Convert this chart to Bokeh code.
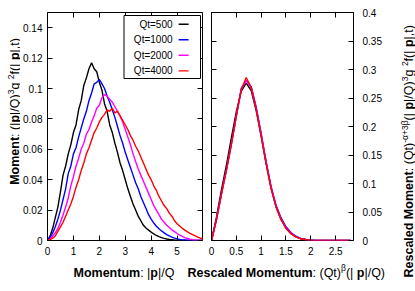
import math
from bokeh.plotting import figure
from bokeh.layouts import row, column
from bokeh.models import (Range1d, FixedTicker, PrintfTickFormatter, LinearAxis,
                          Label, BoxAnnotation)
from bokeh.embed import file_html
from bokeh.resources import INLINE

# ---------------- data ----------------
SERIES = ["Qt=500", "Qt=1000", "Qt=2000", "Qt=4000"]
COLORS = ["#000000", "#0000ff", "#ff00ff", "#ff0000"]

# momentum |p|/Q sampling grid (left panel)
P_GRID = [round(i * 0.1, 1) for i in range(61)]

M_500 = [0, 0.003, 0.008, 0.015, 0.022, 0.032, 0.043, 0.049, 0.057, 0.063,
         0.071, 0.076, 0.086, 0.092, 0.102, 0.107, 0.113, 0.117, 0.113, 0.111,
         0.104, 0.099, 0.090, 0.085, 0.076, 0.071, 0.064, 0.058, 0.051, 0.046,
         0.040, 0.034, 0.029, 0.024, 0.020, 0.016, 0.013, 0.010, 0.0082, 0.0068,
         0.0055, 0.0043, 0.0033, 0.0025, 0.0019, 0.0014, 0.0010, 0.0007, 0.0005, 0.0003,
         0.0002, 0.0001, 0.0001, 0, 0, 0, 0, 0, 0, 0, 0]
M_1000 = [0, 0.002, 0.005, 0.009, 0.014, 0.020, 0.027, 0.034, 0.044, 0.049,
          0.057, 0.061, 0.068, 0.074, 0.080, 0.085, 0.092, 0.097, 0.103, 0.104,
          0.106, 0.103, 0.100, 0.095, 0.091, 0.086, 0.081, 0.075, 0.069, 0.064,
          0.058, 0.053, 0.048, 0.043, 0.038, 0.034, 0.029, 0.025, 0.021, 0.017,
          0.014, 0.0115, 0.0094, 0.0077, 0.0063, 0.0050, 0.0039, 0.0030, 0.0022, 0.0016,
          0.0011, 0.0007, 0.0004, 0.0003, 0.0002, 0.0001, 0, 0, 0, 0, 0]
M_2000 = [0, 0.001, 0.003, 0.005, 0.008, 0.012, 0.017, 0.022, 0.028, 0.036,
          0.042, 0.049, 0.054, 0.060, 0.064, 0.070, 0.073, 0.078, 0.082, 0.087,
          0.089, 0.094, 0.096, 0.095, 0.093, 0.091, 0.088, 0.085, 0.082, 0.078,
          0.073, 0.068, 0.063, 0.057, 0.052, 0.047, 0.043, 0.039, 0.035, 0.031,
          0.027, 0.023, 0.020, 0.017, 0.014, 0.012, 0.010, 0.0085, 0.0070, 0.0058,
          0.0046, 0.0036, 0.0027, 0.0019, 0.0013, 0.0008, 0.0005, 0.0003, 0.0002, 0.0001, 0]
M_4000 = [0, 0.0005, 0.0015, 0.003, 0.006, 0.009, 0.012, 0.016, 0.020, 0.024,
          0.029, 0.035, 0.040, 0.046, 0.051, 0.057, 0.061, 0.066, 0.071, 0.074,
          0.078, 0.081, 0.083, 0.086, 0.085, 0.087, 0.084, 0.085, 0.082, 0.079,
          0.076, 0.073, 0.069, 0.066, 0.062, 0.059, 0.055, 0.051, 0.047, 0.043,
          0.040, 0.036, 0.033, 0.029, 0.026, 0.023, 0.021, 0.018, 0.016, 0.013,
          0.011, 0.0095, 0.0080, 0.0068, 0.0057, 0.0047, 0.0038, 0.0030, 0.0022, 0.0015, 0.001]

# rescaled momentum (Qt)^beta |p|/Q sampling grid (right panel)
R_GRID = [round(i * 0.1, 1) for i in range(29)]

R_500 = [0, 0.041, 0.089, 0.132, 0.180, 0.226, 0.262, 0.276, 0.263, 0.228,
         0.183, 0.135, 0.092, 0.059, 0.037, 0.022, 0.012, 0.0065, 0.003, 0.0013,
         0.0005, 0.0002, 0.0001, 0, 0, 0, 0, 0, 0]
R_1000 = [0, 0.037, 0.082, 0.124, 0.169, 0.219, 0.267, 0.281, 0.270, 0.234,
          0.188, 0.139, 0.095, 0.062, 0.040, 0.024, 0.014, 0.0075, 0.0038, 0.0017,
          0.0008, 0.0003, 0.0001, 0, 0, 0, 0, 0, 0]
R_2000 = [0, 0.037, 0.082, 0.124, 0.169, 0.219, 0.265, 0.281, 0.268, 0.232,
          0.186, 0.137, 0.093, 0.060, 0.038, 0.022, 0.013, 0.0068, 0.0033, 0.0015,
          0.0006, 0.0002, 0.0001, 0, 0, 0, 0, 0, 0]
R_4000 = [0, 0.036, 0.081, 0.123, 0.168, 0.218, 0.265, 0.286, 0.268, 0.231,
          0.184, 0.135, 0.091, 0.059, 0.037, 0.021, 0.012, 0.0062, 0.003, 0.0013,
          0.0005, 0.0002, 0.0001, 0, 0, 0, 0, 0, 0]

X1_TICKS = [0, 1, 2, 3, 4, 5]
Y1_TICKS = [0, 0.02, 0.04, 0.06, 0.08, 0.1, 0.12, 0.14]
X2_TICKS = [0, 0.5, 1, 1.5, 2, 2.5]
Y2_TICKS = [0, 0.05, 0.1, 0.15, 0.2, 0.25, 0.3, 0.35, 0.4]

X1_RANGE = (0, 5.98)
Y1_RANGE = (0, 0.15)
X2_RANGE = (0, 2.86)
Y2_RANGE = (0, 0.4)

# ---------------- layout ----------------
FONT = "Liberation Sans"
TOP_H = 258          # height of the two panels
BOT_H = 33           # strip holding the x-axis titles
W_LY, W1, W2, W_RY = 20, 185, 190, 20
MB1 = dict(min_border_left=26, min_border_right=3, min_border_top=12, min_border_bottom=18)
MB2 = dict(min_border_left=6, min_border_right=42, min_border_top=12, min_border_bottom=18)

REG = {' ': 278, '(': 333, ')': 333, '|': 260, '/': 278, 'Q': 778, 't': 278, ',': 278,
       'f': 278, 'g': 556, 'p': 556, '-': 333, '+': 584, '3': 556, '2': 556,
       'α': 580, 'β': 575, ':': 278}
BOLD = {'R': 722, 'e': 556, 's': 556, 'c': 556, 'a': 556, 'l': 278, 'd': 611, ' ': 278,
        'M': 833, 'o': 611, 'm': 889, 'n': 611, 't': 333, 'u': 611, ':': 333, 'p': 611}


def text_w(s, bold, size):
    table = BOLD if bold else REG
    return sum(table.get(c, 556) for c in s) * size / 1000.0


def rich(p, x, y, pieces, dx=0.0, dy=0.0, angle=0.0):
    pos = 0.0
    for txt, bold, size, rise in pieces:
        if angle == 0.0:
            xo, yo = dx + pos, dy + rise
        else:
            xo, yo = dx - rise, dy + pos
        p.add_layout(Label(x=x, y=y, x_offset=xo, y_offset=yo, text=txt, angle=angle,
                           text_font=FONT, text_font_size=f"{size}px",
                           text_font_style="bold" if bold else "normal",
                           text_color="black", text_align="left",
                           text_baseline="alphabetic", level="overlay"))
        pos += text_w(txt, bold, size)


def style_axis(ax, ticks, labels=True, standoff=6):
    ax.ticker = FixedTicker(ticks=ticks)
    ax.formatter = PrintfTickFormatter(format="%g")
    ax.major_tick_in = 5
    ax.major_tick_out = 0
    ax.minor_tick_in = 0
    ax.minor_tick_out = 0
    ax.axis_line_color = None
    ax.major_tick_line_color = "black"
    ax.major_tick_line_width = 1
    ax.major_label_text_font = FONT
    ax.major_label_text_font_style = "normal"
    if labels:
        ax.major_label_text_color = "black"
        ax.major_label_text_font_size = "10px"
        ax.major_label_standoff = standoff
    else:
        ax.major_label_text_color = None
        ax.major_label_text_font_size = "0px"
        ax.major_label_standoff = 0


def make_fig(width, mb, xr, yr, yloc):
    p = figure(width=width, height=TOP_H, x_range=Range1d(*xr), y_range=Range1d(*yr),
               output_backend="svg", toolbar_location=None, y_axis_location=yloc,
               background_fill_color="white", border_fill_color="white",
               outline_line_color="black", outline_line_width=1, **mb)
    p.grid.visible = False
    return p


def blank_fig(width, height):
    p = figure(width=width, height=height, x_range=Range1d(0, width),
               y_range=Range1d(0, height), output_backend="svg", toolbar_location=None,
               x_axis_location=None, y_axis_location=None, outline_line_color=None,
               background_fill_color="white", border_fill_color="white",
               min_border_left=0, min_border_right=0, min_border_top=0, min_border_bottom=0)
    p.grid.visible = False
    return p


SZ, SUP, RISE = 12.5, 8.5, 4.2

# ---------------- left panel ----------------
p1 = make_fig(W1, MB1, X1_RANGE, Y1_RANGE, "left")
style_axis(p1.xaxis[0], X1_TICKS, True, 6)
style_axis(p1.yaxis[0], Y1_TICKS, True, 5)
ax = LinearAxis(); style_axis(ax, X1_TICKS, False); p1.add_layout(ax, "above")
ax = LinearAxis(); style_axis(ax, Y1_TICKS, False); p1.add_layout(ax, "right")

for ys, c in zip([M_500, M_1000, M_2000, M_4000], COLORS):
    p1.line(P_GRID, ys, line_color=c, line_width=1.4)

# legend (gnuplot style: text then sample)
fw1 = W1 - MB1["min_border_left"] - MB1["min_border_right"]
fh1 = TOP_H - MB1["min_border_top"] - MB1["min_border_bottom"]
pxx = fw1 / (X1_RANGE[1] - X1_RANGE[0])
pxy = fh1 / (Y1_RANGE[1] - Y1_RANGE[0])
XE, YE = X1_RANGE[1], Y1_RANGE[1]
p1.add_layout(BoxAnnotation(left=XE - 79 / pxx, right=XE - 2 / pxx,
                            top=YE - 3 / pxy, bottom=YE - 66 / pxy,
                            fill_color="white", fill_alpha=1, line_color="black",
                            line_width=1, line_alpha=1, level="overlay"))
for i, (name, c) in enumerate(zip(SERIES, COLORS)):
    cy = 11.7 + 15.55 * i
    p1.add_layout(Label(x=XE, y=YE, x_offset=-30, y_offset=-cy, text=name,
                        text_font=FONT, text_font_size="10px", text_color="black",
                        text_align="right", text_baseline="middle", level="overlay"))
    p1.add_layout(BoxAnnotation(left=XE - 24 / pxx, right=XE - 14 / pxx,
                                top=YE - (cy - 0.7) / pxy, bottom=YE - (cy + 0.7) / pxy,
                                fill_color=c, fill_alpha=1, line_color=None,
                                level="overlay"))

# ---------------- right panel ----------------
p2 = make_fig(W2, MB2, X2_RANGE, Y2_RANGE, "right")
style_axis(p2.xaxis[0], X2_TICKS, True, 6)
style_axis(p2.yaxis[0], Y2_TICKS, True, 9)
ax = LinearAxis(); style_axis(ax, X2_TICKS, False); p2.add_layout(ax, "above")
ax = LinearAxis(); style_axis(ax, Y2_TICKS, False); p2.add_layout(ax, "left")

for ys, c in zip([R_500, R_1000, R_2000, R_4000], COLORS):
    p2.line(R_GRID, ys, line_color=c, line_width=1.4)

# ---------------- axis-title strips ----------------
left_title = blank_fig(W_LY, TOP_H)
rich(left_title, 14, TOP_H - 195,
     [("Moment", True, SZ, 0), (": (|", False, SZ, 0), ("p", True, SZ, 0),
      ("|/Q)", False, SZ, 0), ("3", False, SUP, 3.6), (" g", False, SZ, 0),
      ("2", False, SUP, 3.6), (" f(|", False, SZ, 0), ("p", True, SZ, 0),
      ("|,t)", False, SZ, 0)],
     angle=math.pi / 2)

bottom = blank_fig(W_LY + W1 + W2, BOT_H)
rich(bottom, 73, 19,
     [("Momentum", True, SZ, 0), (": |", False, SZ, 0), ("p", True, SZ, 0),
      ("|/Q", False, SZ, 0)])
rich(bottom, 187, 19,
     [("Rescaled Momentum", True, SZ, 0), (": (Qt)", False, SZ, 0),
      ("β", False, SUP, RISE), (" (|", False, SZ, 0), ("p", True, SZ, 0),
      ("|/Q)", False, SZ, 0)])

right_title = blank_fig(W_RY, TOP_H + BOT_H)
rich(right_title, 13.5, 14,
     [("Rescaled Moment", True, SZ, 0), (": (Qt)", False, SZ, 0),
      ("-α+3β", False, SUP, RISE), (" (|", False, SZ, 0), ("p", True, SZ, 0),
      ("|/Q)", False, SZ, 0), ("3", False, SUP, RISE), (" g", False, SZ, 0),
      ("2", False, SUP, RISE), (" f(|", False, SZ, 0), ("p", True, SZ, 0),
      ("|,t)", False, SZ, 0)],
     angle=math.pi / 2)

layout = row(column(row(left_title, p1, p2), bottom), right_title)
open("out.html", "w").write(file_html(layout, INLINE))
